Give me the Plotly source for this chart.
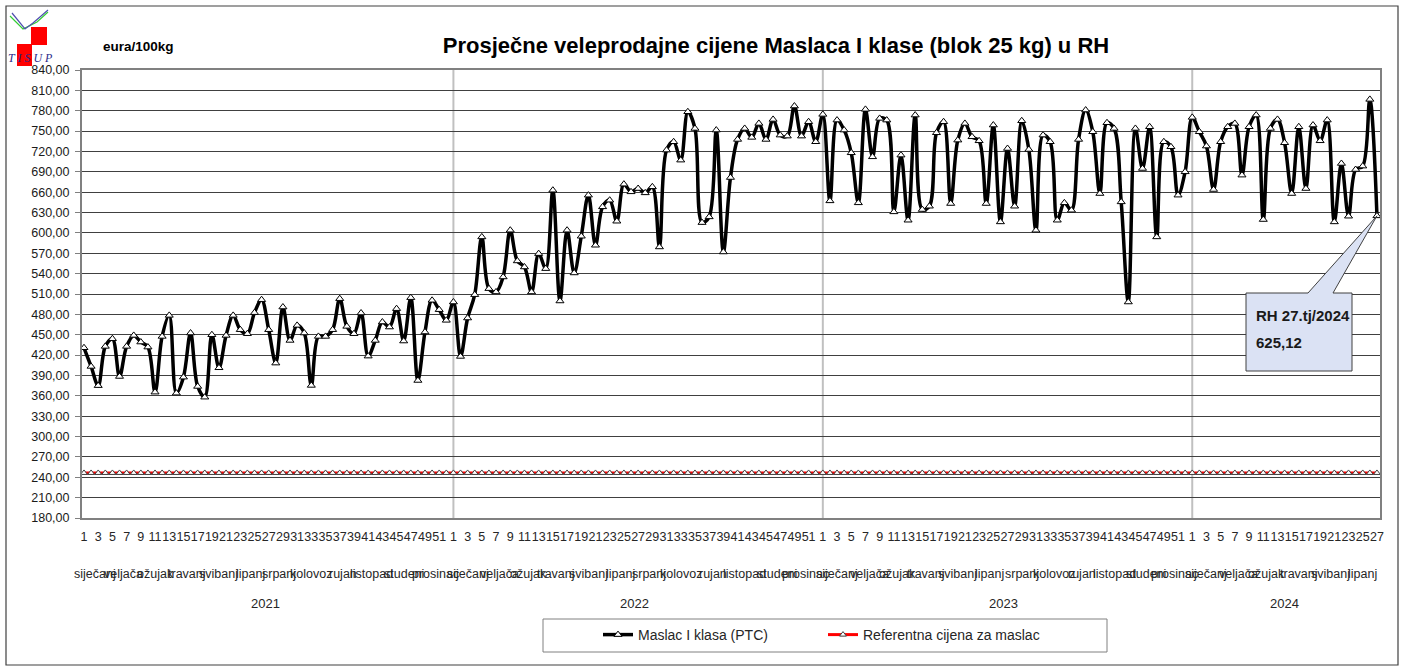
import plotly.graph_objects as go

# ---------------- data ----------------
years = ["2021", "2022", "2023", "2024"]
weeks_per_year = [52, 52, 52, 27]
month_names = ["siječanj", "veljača", "ožujak", "travanj", "svibanj", "lipanj",
               "srpanj", "kolovoz", "rujan", "listopad", "studeni", "prosinac"]
# number of weeks belonging to each month, per year
month_weeks_2021 = [4, 4, 5, 4, 5, 4, 4, 5, 4, 4, 5, 4]
month_weeks_2022 = [5, 4, 4, 4, 5, 4, 4, 5, 4, 5, 4, 4]
month_weeks_2023 = [5, 4, 4, 4, 5, 4, 5, 4, 4, 5, 4, 4]
month_weeks_2024 = [5, 4, 4, 5, 4, 5]

maslac_2021 = [430.8, 403.3, 375.0, 432.8, 444.1, 388.5, 432.8, 449.0, 439.2, 431.8,
               365.4, 447.5, 478.5, 363.9, 387.5, 452.5, 373.8, 358.0, 450.0, 401.3,
               449.0, 478.5, 457.4, 451.5, 482.5, 501.6, 457.4, 408.2, 490.8, 441.6,
               463.8, 452.5, 375.3, 447.5, 447.5, 457.4, 503.1, 462.3, 451.5, 482.0,
               418.5, 441.6, 468.7, 461.3, 488.4, 440.7, 504.6, 382.6, 454.0, 500.7,
               486.9, 471.2]
maslac_2022 = [498.2, 418.0, 474.6, 509.0, 594.1, 517.9, 513.0, 535.1, 604.0, 558.7,
               549.8, 513.0, 569.5, 547.4, 662.9, 499.7, 604.0, 541.0, 595.1, 655.6,
               581.8, 638.4, 648.2, 617.2, 671.8, 660.5, 665.4, 659.0, 667.9, 579.3,
               722.0, 734.3, 707.2, 778.5, 753.9, 615.2, 623.6, 751.5, 571.9, 681.6,
               737.7, 753.9, 740.7, 761.3, 737.7, 767.2, 744.1, 742.6, 786.9, 742.6,
               763.8, 734.3]
maslac_2023 = [774.6, 647.2, 766.2, 751.5, 718.0, 644.3, 782.0, 712.1, 768.7, 766.2,
               631.0, 714.6, 618.7, 773.6, 634.4, 639.3, 747.5, 763.8, 643.3, 736.7,
               761.3, 741.6, 735.7, 643.3, 758.9, 616.2, 724.4, 639.3, 765.2, 722.9,
               603.9, 744.1, 734.3, 618.7, 644.3, 633.4, 737.7, 781.0, 749.0, 658.0,
               762.3, 753.9, 645.7, 498.2, 753.9, 694.9, 756.4, 594.1, 734.3, 726.9,
               655.6, 690.0]
maslac_2024 = [770.2, 749.0, 727.9, 663.9, 734.3, 756.4, 761.3, 685.1, 756.4, 773.6,
               619.7, 753.9, 767.2, 732.8, 658.0, 756.4, 665.4, 758.9, 735.7, 766.2,
               616.2, 702.3, 624.6, 693.4, 698.4, 796.7, 625.12]
reference_price = 246.39

y_ticks = [180, 210, 240, 270, 300, 330, 360, 390, 420, 450, 480, 510, 540, 570,
           600, 630, 660, 690, 720, 750, 780, 810, 840]

callout_lines = ["RH 27.tj/2024", "625,12"]

# ---------------- build ----------------
maslac = maslac_2021 + maslac_2022 + maslac_2023 + maslac_2024
n = len(maslac)
xs = list(range(n))
ref = [reference_price] * n

week_labels = []
year_start = []
s = 0
for w in weeks_per_year:
    year_start.append(s)
    week_labels += [str(k) for k in range(1, w + 1)]
    s += w
tickvals = [i for i in xs if int(week_labels[i]) % 2 == 1]
ticktext = [week_labels[i] for i in tickvals]

W, H = 1402, 670
L, R, T, B = 82, 22, 70, 152
PW, PH = W - L - R, H - T - B
X0, X1 = -0.28, 182.43
YMIN, YMAX = 180, 840


def px_x(px):
    return (px - L) / PW


def px_y(py):
    return (H - B - py) / PH


def dx(px):
    return X0 + (px - L) / PW * (X1 - X0)


def dy(py):
    return YMAX - (py - T) / PH * (YMAX - YMIN)


FONT = "Liberation Sans Narrow, Arial Narrow, Liberation Sans, Arial, sans-serif"

fig = go.Figure()
fig.add_trace(go.Scatter(
    x=xs, y=maslac, name="Maslac I klasa (PTC)", mode="lines+markers",
    line=dict(color="black", width=3.5, shape="spline", smoothing=1.0),
    marker=dict(symbol="triangle-up", size=7, color="white",
                line=dict(color="black", width=1)),
))
fig.add_trace(go.Scatter(
    x=xs, y=ref, name="Referentna cijena za maslac", mode="lines+markers",
    line=dict(color="#ff0000", width=3),
    marker=dict(symbol="triangle-up", size=6, color="white",
                line=dict(color="#404040", width=1)),
))

shapes = []
# outer frame
shapes.append(dict(type="rect", xref="paper", yref="paper",
                   x0=px_x(6), x1=px_x(1398), y0=px_y(665), y1=px_y(6),
                   line=dict(color="#404040", width=1.2), layer="below"))
# year separators
for ys in year_start[1:]:
    shapes.append(dict(type="line", xref="x", yref="paper", x0=ys, x1=ys, y0=0, y1=1,
                       line=dict(color="#c0c0c0", width=2), layer="between"))
# legend box
shapes.append(dict(type="rect", xref="paper", yref="paper",
                   x0=px_x(543), x1=px_x(1107), y0=px_y(652), y1=px_y(619),
                   line=dict(color="#808080", width=1)))
# callout
bx0, bx1, by0, by1 = dx(1246), dx(1352), dy(371), dy(293)
pl, pr = dx(1308), dx(1333)
tipx, tipy = xs[-1], maslac[-1]
path = (f"M {bx0},{by1} L {pl},{by1} L {tipx},{tipy} L {pr},{by1} L {bx1},{by1} "
        f"L {bx1},{by0} L {bx0},{by0} Z")
shapes.append(dict(type="path", xref="x", yref="y", path=path,
                   fillcolor="#dbe2f4", line=dict(color="#404040", width=1)))
# logo
shapes.append(dict(type="rect", xref="paper", yref="paper",
                   x0=px_x(31), x1=px_x(47), y0=px_y(45), y1=px_y(27),
                   fillcolor="#ff0000", line=dict(width=0), layer="below"))
shapes.append(dict(type="rect", xref="paper", yref="paper",
                   x0=px_x(17), x1=px_x(32), y0=px_y(66), y1=px_y(44),
                   fillcolor="#ff0000", line=dict(width=0), layer="below"))


def ppath(pts):
    return "M " + " L ".join(f"{px_x(a)},{px_y(b)}" for a, b in pts)


shapes.append(dict(type="path", xref="paper", yref="paper",
                   path=ppath([(10, 16), (23, 29), (37, 22), (48, 12)]),
                   line=dict(color="#33cc33", width=1.2)))
shapes.append(dict(type="path", xref="paper", yref="paper",
                   path=ppath([(12, 13), (25, 29), (33, 23), (48, 10)]),
                   line=dict(color="#5050b0", width=1.2)))

annotations = []
# month labels
all_month_weeks = [month_weeks_2021, month_weeks_2022, month_weeks_2023, month_weeks_2024]
for yi, mw in enumerate(all_month_weeks):
    start = year_start[yi]
    for mi, cnt in enumerate(mw):
        c = start + (cnt - 1) / 2
        annotations.append(dict(x=c, y=px_y(574), xref="x", yref="paper",
                                text=month_names[mi], showarrow=False,
                                font=dict(family=FONT, size=12.5, color="#262626"),
                                xanchor="center", yanchor="middle"))
        start += cnt
# year labels
for yi, yl in enumerate(years):
    c = year_start[yi] + (weeks_per_year[yi] - 1) / 2
    annotations.append(dict(x=c, y=px_y(603), xref="x", yref="paper", text=yl,
                            showarrow=False,
                            font=dict(family=FONT, size=13, color="#262626"),
                            xanchor="center", yanchor="middle"))
# unit label
annotations.append(dict(x=px_x(101), y=px_y(47), xref="paper", yref="paper",
                        text="<b>eura/100kg</b>", showarrow=False,
                        font=dict(family=FONT, size=13.5, color="black"),
                        xanchor="left", yanchor="middle"))
# callout text
for k, (txt, py) in enumerate(zip(callout_lines, [315, 342])):
    annotations.append(dict(x=dx(1254), y=dy(py), xref="x", yref="y",
                            text=f"<b>{txt}</b>", showarrow=False,
                            font=dict(family=FONT, size=15, color="#1a1a1a"),
                            xanchor="left", yanchor="middle"))
# logo text
annotations.append(dict(x=px_x(30), y=px_y(58), xref="paper", yref="paper",
                        text="<i>T I S U P</i>", showarrow=False,
                        font=dict(family="Liberation Serif, serif", size=12, color="#2a2a8a"),
                        xanchor="center", yanchor="middle"))

fig.update_layout(
    width=W, height=H,
    margin=dict(l=L, r=R, t=T, b=B, pad=0),
    paper_bgcolor="white", plot_bgcolor="white",
    separators=",.",
    title=dict(text="<b>Prosječne veleprodajne cijene Maslaca I klase (blok 25 kg) u RH</b>",
               x=px_x(776), xref="paper", xanchor="center",
               y=1 - 45 / H, yref="container", yanchor="middle",
               font=dict(family=FONT, size=22, color="black")),
    showlegend=True,
    legend=dict(orientation="h", x=px_x(823), xanchor="center", y=px_y(635),
                yanchor="middle", bgcolor="rgba(0,0,0,0)", borderwidth=0,
                font=dict(family=FONT, size=14, color="#262626"),
                entrywidth=180, entrywidthmode="pixels"),
    shapes=shapes,
    annotations=annotations,
)
fig.update_xaxes(range=[X0, X1], tickmode="array", tickvals=tickvals, ticktext=ticktext,
                 tickangle=0, showgrid=False, zeroline=False, ticks="",
                 showline=True, linecolor="#808080", linewidth=2, mirror=True,
                 ticklabelstandoff=6,
                 tickfont=dict(family=FONT, size=12.5, color="#262626"))
fig.update_yaxes(range=[YMIN, YMAX], tickmode="array", tickvals=y_ticks, tickformat=".2f",
                 showgrid=True, gridcolor="#404040", gridwidth=1, zeroline=False,
                 ticks="outside", ticklen=5, tickcolor="#808080",
                 showline=True, linecolor="#808080", linewidth=2, mirror=True,
                 ticklabelstandoff=3,
                 tickfont=dict(family=FONT, size=12.5, color="#1a1a1a"))

fig.write_html("out.html", config={"displayModeBar": False},
               post_script="document.body.style.margin='0';document.body.style.overflow='hidden';")
